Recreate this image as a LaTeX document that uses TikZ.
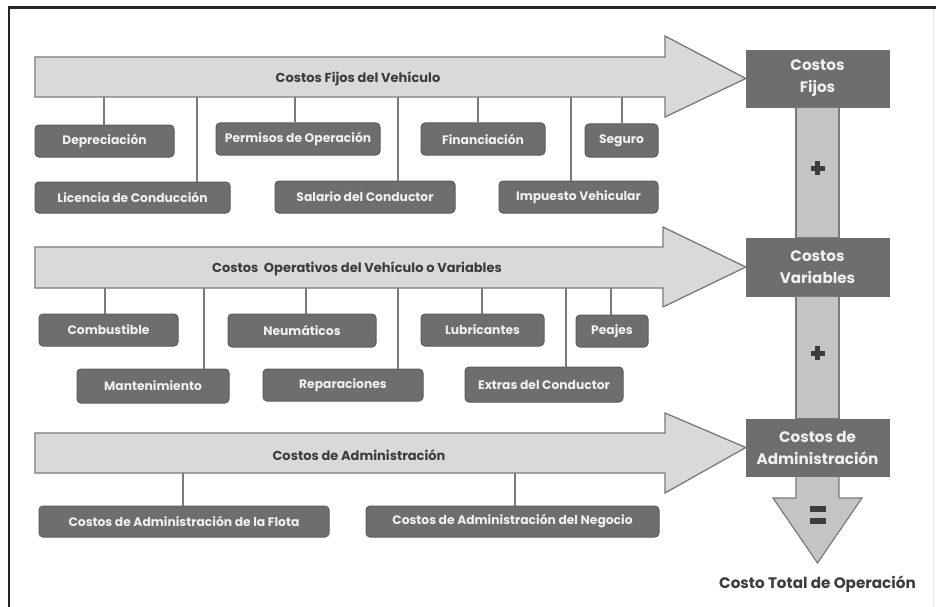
\documentclass[tikz,border=0pt]{standalone}
\usepackage{fontspec}
\setmainfont{Poppins}
\definecolor{boxgray}{HTML}{6E6E6E}
\definecolor{boxedge}{HTML}{5C5C5C}
\definecolor{barfill}{HTML}{D9D9D9}
\definecolor{baredge}{HTML}{7A7A7A}
\definecolor{vfill}{HTML}{C4C4C4}
\definecolor{darktext}{HTML}{3C3C3C}
\tikzset{
  leaf/.style={rounded corners=4pt, fill=boxgray, draw=boxedge, line width=1pt,
    text=white!94!black, font=\bfseries\fontsize{12.3}{14}\selectfont, inner sep=0pt},
  bigbox/.style={fill=boxgray, draw=boxgray, text=white!94!black, inner sep=0pt,
    minimum width=143pt, font=\bfseries\fontsize{15.2}{22}\selectfont, align=center},
  arrowshape/.style={fill=barfill, draw=baredge, line width=1.3pt, line join=miter},
  vbar/.style={fill=vfill, draw=baredge, line width=1.2pt},
  conn/.style={draw=baredge, line width=1.3pt},
  bartext/.style={text=darktext, font=\bfseries\fontsize{13}{15}\selectfont, inner sep=0pt},
  sign/.style={fill=darktext, draw=none}
}
\begin{document}
\begin{tikzpicture}[x=1pt,y=-1pt]
\useasboundingbox (0,0) rectangle (936,607);
\fill[white] (0,0) rectangle (936,607);
% frame
\draw[line width=2.5pt, black!85] (9,607) -- (9,7.5) -- (936,7.5);
\draw[line width=0.6pt, black!12] (933,9) -- (933,607);

% ---------- big boxes and vertical flow ----------
\node[bigbox, minimum height=57pt] (cf) at (817.5,78.5) {Costos\\Fijos};
\node[bigbox, minimum height=58pt] (cv) at (817.5,267) {Costos\\Variables};
\node[bigbox, minimum height=57pt] (ca) at (817.5,447.5) {Costos de\\Administración};

\draw[vbar] ([xshift=-21.5pt]cf.south) rectangle ([xshift=21.5pt]cv.north);
\draw[vbar] ([xshift=-21.5pt]cv.south) rectangle ([xshift=21.5pt]ca.north);
\coordinate (tip) at (817.5,563);
\draw[vbar, line join=miter] ([xshift=-21.5pt]ca.south) -- ([xshift=-21.5pt]ca.south |- 0,498) -- (773,498)
  -- (tip) -- (862,498) -- ([xshift=21.5pt]ca.south |- 0,498) -- ([xshift=21.5pt]ca.south);
\node[bigbox, minimum height=57pt] at (ca) {Costos de\\Administración};
\node[text=darktext, font=\bfseries\fontsize{15.2}{17}\selectfont, inner sep=0pt] (total) at (817.5,584) {Costo Total de Operación};

% signs
\foreach \yy in {168,353}{
  \fill[sign] (810.5,\yy-2.5) rectangle (824.5,\yy+2.5);
  \fill[sign] (815,\yy-7) rectangle (820,\yy+7);
}
\fill[sign] (810,506) rectangle (826,511.5);
\fill[sign] (810,518) rectangle (826,523.5);

% ---------- arrow 1 ----------
\draw[arrowshape] (35,57) -- (665,57) -- (665,36) -- (cf.west) -- (665,117) -- (665,97) -- (35,97) -- cycle;
\coordinate (a1) at (350,97);
\node[bartext] (t1) at (358,79) {Costos Fijos del Vehículo};

\node[leaf, minimum width=139pt, minimum height=32pt] (dep) at (104.5,141) {Depreciación};
\node[leaf, minimum width=164pt, minimum height=32pt] (perm) at (298,139) {Permisos de Operación};
\node[leaf, minimum width=124pt, minimum height=32pt] (fin) at (483,139) {Financiación};
\node[leaf, minimum width=73pt, minimum height=33pt] (seg) at (621.5,140.5) {Seguro};
\node[leaf, minimum width=195pt, minimum height=31pt] (lic) at (132.5,197.5) {Licencia de Conducción};
\node[leaf, minimum width=180pt, minimum height=32pt] (sal) at (365,197) {Salario del Conductor};
\node[leaf, minimum width=159pt, minimum height=32pt] (imp) at (578.5,197) {Impuesto Vehicular};

\draw[conn] (dep.north -| 104,0) -- (a1 -| 104,0);
\draw[conn] (lic.north -| 197,0) -- (a1 -| 197,0);
\draw[conn] (perm.north -| 295,0) -- (a1 -| 295,0);
\draw[conn] (sal.north -| 398,0) -- (a1 -| 398,0);
\draw[conn] (fin.north -| 478,0) -- (a1 -| 478,0);
\draw[conn] (imp.north -| 571,0) -- (a1 -| 571,0);
\draw[conn] (seg.north -| 622,0) -- (a1 -| 622,0);

% ---------- arrow 2 ----------
\draw[arrowshape] (35,247) -- (663,247) -- (663,227) -- (cv.west) -- (663,307) -- (663,288) -- (35,288) -- cycle;
\coordinate (a2) at (350,288);
\node[bartext] (t2) at (357,269) {Costos\ \ Operativos del Vehículo o Variables};

\node[leaf, minimum width=139pt, minimum height=32pt] (comb) at (108.5,330) {Combustible};
\node[leaf, minimum width=148pt, minimum height=33pt] (neu) at (302,330.5) {Neumáticos};
\node[leaf, minimum width=123pt, minimum height=32pt] (lub) at (482.5,330) {Lubricantes};
\node[leaf, minimum width=72pt, minimum height=32pt] (pea) at (612,331) {Peajes};
\node[leaf, minimum width=152pt, minimum height=34pt] (man) at (153,386) {Mantenimiento};
\node[leaf, minimum width=160pt, minimum height=32pt] (rep) at (343,385) {Reparaciones};
\node[leaf, minimum width=158pt, minimum height=35pt] (ext) at (544,384.5) {Extras del Conductor};

\draw[conn] (comb.north -| 105,0) -- (a2 -| 105,0);
\draw[conn] (man.north -| 204,0) -- (a2 -| 204,0);
\draw[conn] (neu.north -| 306,0) -- (a2 -| 306,0);
\draw[conn] (rep.north -| 398,0) -- (a2 -| 398,0);
\draw[conn] (lub.north -| 482,0) -- (a2 -| 482,0);
\draw[conn] (ext.north -| 566,0) -- (a2 -| 566,0);
\draw[conn] (pea.north -| 611,0) -- (a2 -| 611,0);

% ---------- arrow 3 ----------
\draw[arrowshape] (35,433) -- (665,433) -- (665,413) -- (ca.west) -- (665,493) -- (665,473) -- (35,473) -- cycle;
\coordinate (a3) at (350,473);
\node[bartext] (t3) at (359,455) {Costos de Administración};

\node[leaf, minimum width=290pt, minimum height=31pt] (flo) at (184,521.5) {Costos de Administración de la Flota};
\node[leaf, minimum width=293pt, minimum height=31pt] (neg) at (512.5,521.5) {Costos de Administración del Negocio};

\draw[conn] (flo.north -| 183,0) -- (a3 -| 183,0);
\draw[conn] (neg.north -| 515,0) -- (a3 -| 515,0);
\end{tikzpicture}
\end{document}
